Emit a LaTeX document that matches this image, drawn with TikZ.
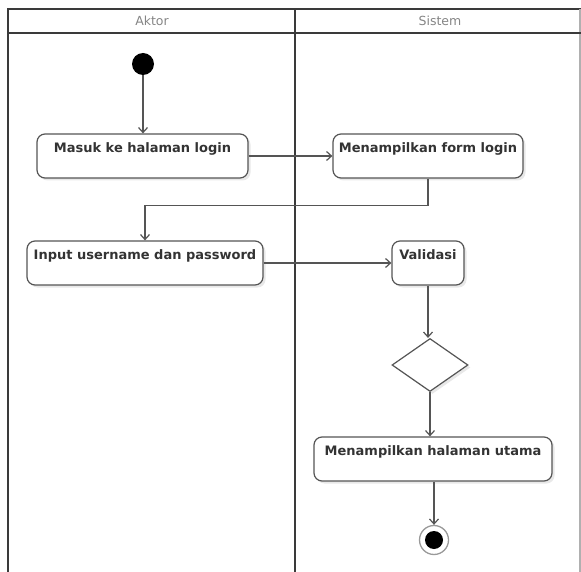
\documentclass[tikz,border=0pt]{standalone}
\usepackage{fontspec}
\setmainfont{DejaVu Sans}
\usepackage{tikz}
\usetikzlibrary{arrows.meta,shapes.geometric,shadows}
\definecolor{garis}{HTML}{555555}
\definecolor{jalur}{HTML}{3A3A3A}
\definecolor{judul}{HTML}{858585}

\begin{document}
\begin{tikzpicture}[x=1pt,y=-1pt,
    lane/.style={jalur,line width=2.3pt},
    lanetitle/.style={judul,font=\fontsize{12.5}{14}\selectfont},
    aksi/.style={draw=garis,line width=1.2pt,fill=white,rounded corners=8pt,
      minimum height=44pt,inner xsep=2pt,inner ysep=7.5pt,text height=11pt,text depth=18pt,
      font=\bfseries\fontsize{13}{15}\selectfont,text=black!80,
      drop shadow={opacity=0.18,shadow xshift=2.5pt,shadow yshift=-2.5pt}},
    awal/.style={circle,fill=black,minimum size=22pt,inner sep=0pt},
    putusan/.style={diamond,draw=garis,line width=1.2pt,fill=white,minimum width=76pt,minimum height=53pt,inner sep=0pt,
      drop shadow={opacity=0.18,shadow xshift=2.5pt,shadow yshift=-2.5pt}},
    akhir/.style={circle,draw=garis!60,line width=1.3pt,fill=white,minimum size=29pt,inner sep=0pt,
      path picture={\fill[black] (path picture bounding box.center) circle (9pt);}},
    alur/.style={garis,line width=1.2pt,-{Straight Barb[length=5pt,width=9pt]}}]
        \useasboundingbox (0,0) rectangle (581,572);
        \draw[lane] (8,572) -- (8,9) -- (581,9);
        \draw[jalur!40,line width=1.5pt] (580,9) -- (580,572);
        \draw[lane] (8,33) -- (581,33);
        \draw[lane] (295,9) -- (295,572);
        \node[lanetitle] (aktor) at (152,21) {Aktor};
        \node[lanetitle] (sistem) at (440,21) {Sistem};
        \node[awal] (mulai) at (143,64) {};
        \node[aksi,minimum width=211pt] (masuk) at (142.5,156) {Masuk ke halaman login};
        \node[aksi,minimum width=190pt] (form) at (428,156) {Menampilkan form login};
        \node[aksi,minimum width=236pt] (input) at (145,263) {Input username dan password};
        \node[aksi,minimum width=72pt] (validasi) at (428,263) {Validasi};
        \node[putusan] (cek) at (430,365) {};
        \node[aksi,minimum width=238pt] (utama) at (433,459) {Menampilkan halaman utama};
        \node[akhir] (selesai) at (434,540) {};
        \draw[alur] (mulai) -- (mulai |- masuk.north);
        \draw[alur] (masuk.east |- form.west) -- (form.west);
        \draw[alur] (form.south) -- ++(0,27) -| (input.north);
        \draw[alur] (input.east) -- (validasi.west);
        \draw[alur] (validasi.south) -- (validasi.south |- cek.north);
        \draw[alur] (cek.south) -- (cek.south |- utama.north);
        \draw[alur] (utama.south -| selesai) -- (selesai.north);
\end{tikzpicture}
\end{document}
